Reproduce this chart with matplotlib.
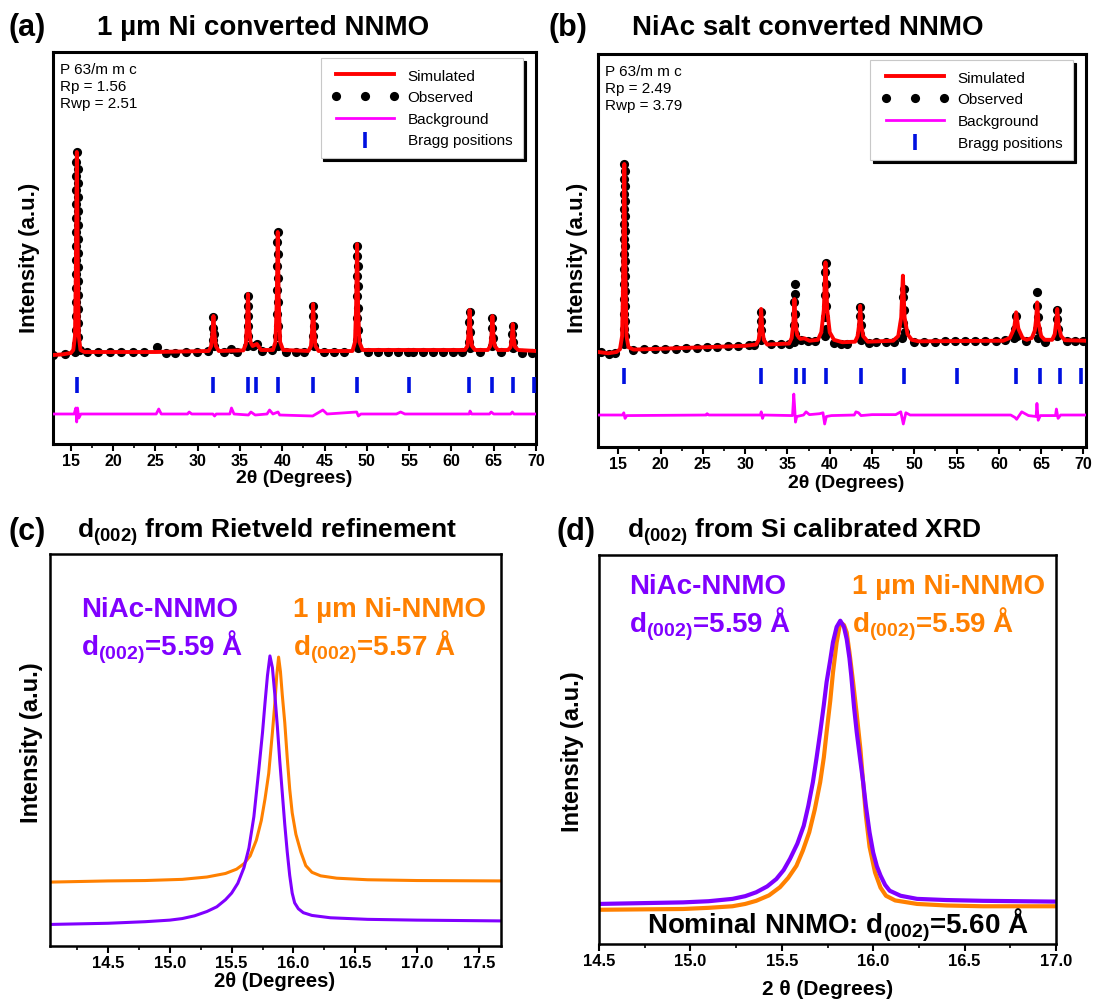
import numpy as np
import matplotlib
matplotlib.use("Agg")
import matplotlib.pyplot as plt
from matplotlib.ticker import MultipleLocator

plt.rcParams['font.family'] = ['Liberation Sans', 'DejaVu Sans']
plt.rcParams['mathtext.fontset'] = 'custom'
plt.rcParams['mathtext.rm'] = 'Liberation Sans'
plt.rcParams['mathtext.bf'] = 'Liberation Sans:bold'

W, H = 1104, 1003
PURPLE = '#8000ff'
ORANGE = '#ff8000'

# ---------------- panel (a): 1 um Ni converted NNMO ----------------
sim_a = [(12.9, -0.015), (14.0, -0.012), (15.0, -0.005), (15.3, 0.01), (15.5, 0.08), (15.6, 0.4),
         (15.72, 1.0), (15.84, 0.4), (15.95, 0.08), (16.15, 0.01), (16.6, 0.0), (25.0, 0.0),
         (31.3, 0.005), (31.6, 0.03), (31.75, 0.09), (31.87, 0.18), (31.99, 0.09), (32.15, 0.03),
         (32.5, 0.005), (35.4, 0.008), (35.7, 0.04), (35.83, 0.14), (35.95, 0.29), (36.07, 0.14),
         (36.25, 0.05), (36.5, 0.03), (37.0, 0.04), (37.5, 0.01), (38.9, 0.01), (39.2, 0.05),
         (39.35, 0.25), (39.47, 0.6), (39.59, 0.25), (39.75, 0.05), (40.1, 0.01), (43.1, 0.005),
         (43.4, 0.03), (43.53, 0.11), (43.65, 0.24), (43.77, 0.11), (43.92, 0.03), (44.3, 0.005),
         (48.3, 0.005), (48.6, 0.05), (48.73, 0.22), (48.85, 0.54), (48.97, 0.22), (49.12, 0.05),
         (49.5, 0.01), (61.6, 0.01), (61.9, 0.03), (62.03, 0.1), (62.15, 0.21), (62.27, 0.1),
         (62.42, 0.03), (62.8, 0.01), (64.3, 0.01), (64.6, 0.03), (64.73, 0.08), (64.85, 0.18),
         (64.97, 0.08), (65.12, 0.03), (65.5, 0.01), (66.7, 0.01), (67.0, 0.025), (67.13, 0.065),
         (67.25, 0.14), (67.37, 0.065), (67.52, 0.025), (67.9, 0.01), (70.0, 0.005)]
obs_a = [(12.9, -0.015), (14.3, -0.01), (15.45, 0.0), (16.05, 0.01), (16.9, 0.0), (18.2, 0.0),
         (19.6, 0.0), (20.9, 0.0), (22.3, 0.0), (23.6, 0.0), (25.2, 0.025), (26.3, -0.005),
         (27.3, -0.003), (28.6, 0.0), (29.9, 0.0), (31.2, 0.005), (33.1, 0.0), (33.9, 0.015),
         (34.7, 0.0), (37.6, 0.005), (38.8, 0.01), (40.4, 0.0), (41.6, 0.0), (42.6, 0.0),
         (44.9, 0.0), (46.1, 0.0), (47.3, 0.0), (50.1, 0.0), (51.3, 0.0), (52.5, 0.0), (53.7, 0.0),
         (54.9, 0.0), (55.4, 0.0), (56.6, 0.0), (57.8, 0.0), (59.0, 0.0), (60.2, 0.0), (61.2, 0.0),
         (63.4, 0.0), (65.9, 0.0), (68.4, -0.005), (69.5, -0.005),
         # (002) peak
         (15.62, 0.04), (15.62, 0.11), (15.62, 0.18), (15.62, 0.25), (15.62, 0.32), (15.62, 0.39),
         (15.62, 0.46), (15.62, 0.53), (15.62, 0.60), (15.62, 0.67), (15.62, 0.74), (15.62, 0.81),
         (15.62, 0.88), (15.62, 0.95), (15.82, 0.075), (15.82, 0.145), (15.82, 0.215),
         (15.82, 0.285), (15.82, 0.355), (15.82, 0.425), (15.82, 0.495), (15.82, 0.565),
         (15.82, 0.635), (15.82, 0.705), (15.82, 0.775), (15.82, 0.845), (15.82, 0.915),
         (15.72, 1.0),
         (31.82, 0.175), (31.8, 0.12), (31.93, 0.09), (31.8, 0.06), (31.95, 0.03),
         (35.95, 0.28), (35.9, 0.23), (36.0, 0.18), (35.9, 0.13), (36.0, 0.08), (35.85, 0.03),
         (36.5, 0.03), (37.0, 0.04),
         (39.45, 0.60), (39.4, 0.55), (39.5, 0.49), (39.4, 0.43), (39.5, 0.37), (39.4, 0.31),
         (39.5, 0.25), (39.4, 0.19), (39.5, 0.13), (39.4, 0.08), (39.55, 0.03),
         (43.65, 0.23), (43.6, 0.18), (43.7, 0.13), (43.6, 0.08), (43.7, 0.03),
         (48.85, 0.53), (48.8, 0.48), (48.9, 0.43), (48.8, 0.38), (48.9, 0.33), (48.8, 0.28),
         (48.9, 0.22), (48.8, 0.17), (48.9, 0.11), (48.8, 0.06), (48.9, 0.02),
         (62.15, 0.20), (62.1, 0.15), (62.2, 0.10), (62.1, 0.05), (62.25, 0.02),
         (64.85, 0.17), (64.8, 0.12), (64.9, 0.07), (64.85, 0.03),
         (67.25, 0.13), (67.2, 0.09), (67.3, 0.05), (67.25, 0.02)]
diff_a = [(12.9, -0.31), (15.4, -0.31), (15.6, -0.28), (15.7, -0.35), (15.8, -0.28), (15.95, -0.33),
          (16.2, -0.31), (25.1, -0.31), (25.4, -0.285), (25.7, -0.31), (28.8, -0.31), (29.0, -0.30),
          (29.3, -0.31), (31.8, -0.31), (32.0, -0.32), (32.2, -0.31), (33.8, -0.31), (34.0, -0.28),
          (34.3, -0.31), (36.0, -0.315), (36.3, -0.30), (36.8, -0.315), (38.2, -0.31), (38.5, -0.29),
          (38.9, -0.31), (39.5, -0.30), (39.7, -0.315), (43.6, -0.32), (44.0, -0.31), (44.8, -0.29),
          (45.3, -0.31), (48.8, -0.30), (49.0, -0.32), (49.3, -0.31), (53.5, -0.31), (54.0, -0.30),
          (54.5, -0.31), (62.1, -0.31), (62.2, -0.295), (62.4, -0.31), (64.5, -0.31), (64.7, -0.30),
          (65.0, -0.31), (67.0, -0.31), (67.2, -0.30), (67.4, -0.31), (70.0, -0.31)]
bragg_a = [15.7, 31.8, 35.9, 36.9, 39.45, 43.6, 48.85, 55.0, 62.05, 64.85, 67.3, 69.75]

# ---------------- panel (b): NiAc salt converted NNMO ----------------
sim_b = [(12.6, -0.005), (13.8, -0.012), (14.8, -0.005), (15.2, 0.01), (15.45, 0.08), (15.58, 0.4),
         (15.71, 1.0), (15.84, 0.4), (15.97, 0.08), (16.2, 0.02), (16.8, 0.008), (20.0, 0.012),
         (25.0, 0.02), (30.0, 0.028), (31.3, 0.035), (31.6, 0.06), (31.76, 0.12), (31.89, 0.225),
         (32.02, 0.12), (32.2, 0.06), (32.6, 0.035), (35.2, 0.04), (35.5, 0.07), (35.7, 0.15),
         (35.83, 0.278), (35.96, 0.15), (36.15, 0.085), (36.5, 0.065), (37.0, 0.068), (37.6, 0.055),
         (38.6, 0.06), (39.0, 0.1), (39.3, 0.22), (39.5, 0.474), (39.7, 0.22), (40.0, 0.1),
         (40.5, 0.06), (41.5, 0.047), (43.0, 0.05), (43.3, 0.08), (43.47, 0.14), (43.6, 0.242),
         (43.73, 0.14), (43.95, 0.08), (44.5, 0.05), (47.5, 0.055), (48.1, 0.08), (48.45, 0.18),
         (48.65, 0.403), (48.85, 0.18), (49.2, 0.09), (49.7, 0.06), (50.5, 0.052), (60.5, 0.055),
         (61.3, 0.07), (61.8, 0.12), (62.04, 0.207), (62.3, 0.12), (62.8, 0.07), (63.3, 0.06),
         (63.9, 0.07), (64.25, 0.11), (64.4, 0.17), (64.53, 0.26), (64.68, 0.15), (65.0, 0.08),
         (65.4, 0.06), (66.3, 0.06), (66.6, 0.09), (66.77, 0.15), (66.9, 0.225), (67.05, 0.14),
         (67.35, 0.08), (67.8, 0.058), (70.3, 0.055)]
obs_b = [(12.9, -0.005), (13.9, -0.015), (14.6, -0.01), (16.7, 0.005), (18.0, 0.01), (19.3, 0.01),
         (20.5, 0.01), (21.8, 0.013), (23.0, 0.015), (24.3, 0.018), (25.5, 0.02), (26.7, 0.022),
         (28.0, 0.025), (29.2, 0.025), (30.5, 0.03), (31.1, 0.03), (33.0, 0.035), (34.2, 0.04),
         (35.2, 0.038), (36.6, 0.06), (37.4, 0.055), (38.2, 0.055), (40.5, 0.045), (41.3, 0.04),
         (42.0, 0.04), (44.6, 0.045), (45.5, 0.05), (46.6, 0.05), (47.6, 0.05), (50.0, 0.05),
         (51.2, 0.05), (52.4, 0.05), (53.6, 0.052), (54.8, 0.052), (56.0, 0.053), (57.2, 0.053),
         (58.4, 0.055), (59.6, 0.055), (60.7, 0.06), (63.2, 0.055), (65.5, 0.05), (68.0, 0.052),
         (69.0, 0.052), (70.0, 0.055),
         # (002) peak
         (15.62, 0.04), (15.62, 0.12), (15.62, 0.20), (15.62, 0.28), (15.62, 0.36), (15.62, 0.44),
         (15.62, 0.52), (15.62, 0.60), (15.62, 0.68), (15.62, 0.76), (15.62, 0.84), (15.62, 0.92),
         (15.8, 0.08), (15.8, 0.16), (15.8, 0.24), (15.8, 0.32), (15.8, 0.40), (15.8, 0.48),
         (15.8, 0.56), (15.8, 0.64), (15.8, 0.72), (15.8, 0.80), (15.8, 0.88), (15.8, 0.96),
         (15.71, 1.0),
         (31.89, 0.21), (31.85, 0.16), (31.93, 0.11), (31.85, 0.06),
         (35.85, 0.358), (35.85, 0.305), (35.8, 0.26), (35.88, 0.2), (35.8, 0.14), (35.9, 0.09),
         (35.8, 0.05),
         (39.5, 0.47), (39.45, 0.42), (39.55, 0.36), (39.45, 0.30), (39.55, 0.24), (39.45, 0.18),
         (39.55, 0.12), (39.45, 0.08),
         (43.6, 0.235), (43.55, 0.19), (43.65, 0.14), (43.55, 0.09), (43.65, 0.06),
         (48.75, 0.33), (48.7, 0.29), (48.8, 0.22), (48.65, 0.15), (48.85, 0.10), (48.6, 0.07),
         (62.05, 0.19), (61.95, 0.12), (62.1, 0.08), (61.8, 0.07),
         (64.55, 0.314), (64.5, 0.24), (64.6, 0.18), (64.45, 0.12), (64.6, 0.07),
         (66.9, 0.22), (66.85, 0.17), (66.95, 0.12), (66.85, 0.08)]
diff_b = [(12.6, -0.342), (15.5, -0.342), (15.65, -0.33), (15.8, -0.36), (16.0, -0.345),
          (25.4, -0.342), (25.5, -0.335), (25.7, -0.342), (31.8, -0.342), (31.9, -0.325),
          (32.05, -0.36), (32.2, -0.342), (35.6, -0.345), (35.75, -0.23), (35.85, -0.30),
          (35.95, -0.38), (36.1, -0.35), (36.9, -0.342), (37.2, -0.325), (37.6, -0.34),
          (38.8, -0.335), (39.2, -0.33), (39.4, -0.39), (39.6, -0.35), (40.2, -0.345),
          (42.9, -0.342), (43.1, -0.325), (43.4, -0.33), (43.7, -0.345), (45.0, -0.34),
          (47.8, -0.34), (48.4, -0.325), (48.7, -0.39), (49.0, -0.33), (49.5, -0.342),
          (61.4, -0.342), (61.9, -0.355), (62.1, -0.365), (62.7, -0.325), (63.5, -0.345),
          (64.4, -0.35), (64.5, -0.28), (64.65, -0.37), (64.9, -0.345), (66.7, -0.345),
          (66.8, -0.31), (67.0, -0.36), (67.3, -0.342), (70.3, -0.342)]
bragg_b = [15.71, 31.85, 36.03, 36.9, 39.5, 43.69, 48.82, 55.05, 62.04, 64.83, 67.28, 69.65]

# ---------------- panel (c): d(002) from Rietveld refinement ----------------
c_niac = [(14.03, 55), (14.5, 58), (14.8, 62), (15.0, 66), (15.1, 70), (15.2, 77), (15.3, 88),
          (15.38, 100), (15.45, 118), (15.5, 135), (15.55, 160), (15.6, 200), (15.64, 250),
          (15.68, 330), (15.72, 450), (15.75, 545), (15.77, 620), (15.79, 690), (15.81, 740),
          (15.83, 710), (15.85, 640), (15.87, 560), (15.89, 470), (15.91, 390), (15.93, 310),
          (15.95, 240), (15.97, 180), (15.99, 135), (16.01, 110), (16.04, 95), (16.08, 85),
          (16.15, 78), (16.3, 72), (16.6, 68), (17.0, 66), (17.68, 64)]
c_ni = [(14.03, 163), (14.5, 166), (14.8, 167), (15.1, 170), (15.3, 176), (15.45, 185),
        (15.54, 196), (15.6, 210), (15.65, 230), (15.7, 270), (15.74, 320), (15.77, 375),
        (15.8, 440), (15.83, 545), (15.85, 620), (15.865, 690), (15.88, 737), (15.895, 700),
        (15.91, 640), (15.93, 570), (15.95, 480), (15.97, 400), (15.99, 340), (16.02, 285),
        (16.06, 240), (16.1, 205), (16.15, 188), (16.22, 179), (16.35, 173), (16.6, 169),
        (17.0, 167), (17.68, 166)]

# ---------------- panel (d): d(002) from Si calibrated XRD ----------------
d_niac = [(14.5, 103), (14.96, 107), (15.1, 110), (15.23, 116), (15.3, 123), (15.36, 133),
          (15.42, 148), (15.47, 167), (15.51, 190), (15.545, 219), (15.585, 258), (15.62, 304),
          (15.645, 355), (15.67, 416), (15.69, 478), (15.71, 544), (15.73, 615), (15.745, 673),
          (15.765, 730), (15.78, 776), (15.8, 815), (15.82, 831), (15.84, 815), (15.855, 784),
          (15.87, 735), (15.88, 690), (15.895, 610), (15.91, 544), (15.93, 470), (15.945, 416),
          (15.96, 355), (15.98, 287), (16.0, 235), (16.02, 200), (16.04, 176), (16.065, 152),
          (16.09, 137), (16.15, 124), (16.24, 116), (16.4, 113), (16.6, 111), (17.0, 109)]
d_ni = [(14.5, 88), (14.96, 90), (15.1, 93), (15.23, 97), (15.3, 103), (15.36, 111),
        (15.43, 125), (15.49, 146), (15.535, 170), (15.58, 201), (15.615, 240), (15.65, 287),
        (15.68, 345), (15.71, 416), (15.73, 480), (15.745, 544), (15.765, 625), (15.78, 698),
        (15.8, 775), (15.82, 827), (15.84, 820), (15.855, 801), (15.87, 750), (15.89, 673),
        (15.91, 590), (15.93, 501), (15.945, 415), (15.96, 330), (15.98, 250), (16.01, 184),
        (16.04, 145), (16.07, 124), (16.12, 112), (16.24, 103), (16.4, 99), (16.6, 97),
        (17.0, 97)]


def add_ax(fig, l, t, r, b):
    return fig.add_axes([l / W, 1 - b / H, (r - l) / W, (b - t) / H])


def ftext(fig, x, y, s, **kw):
    return fig.text(x / W, 1 - y / H, s, **kw)


def style_axes(ax, lw=2.0, labelsize=12):
    for sp in ax.spines.values():
        sp.set_linewidth(lw)
    ax.set_yticks([])
    ax.tick_params(axis='x', which='major', direction='out', length=5, width=1.5,
                   labelsize=labelsize, pad=1.5)
    ax.tick_params(axis='x', which='minor', direction='out', length=3, width=1.2)
    for lab in ax.get_xticklabels():
        lab.set_fontweight('bold')


def rietveld(ax, sim, obs, diff, bragg, bragg_y, xlim, ylim, info):
    ox, oy = np.array(obs).T
    sx, sy = np.array(sim).T
    dx, dy = np.array(diff).T
    l_obs, = ax.plot(ox, oy, 'o', color='black', ms=6.6, mec='none', zorder=2)
    l_sim, = ax.plot(sx, sy, '-', color='red', lw=2.8, zorder=3)
    l_bg, = ax.plot(dx, dy, '-', color='#ff00ff', lw=2.0, zorder=3)
    l_br = ax.scatter(bragg, [bragg_y] * len(bragg), marker='|', s=120, linewidths=2.6,
                      color='#0010e0', zorder=3)
    ax.set_xlim(*xlim)
    ax.set_ylim(*ylim)
    ax.xaxis.set_major_locator(MultipleLocator(5))
    ax.xaxis.set_minor_locator(MultipleLocator(2.5))
    style_axes(ax, 2.2, labelsize=11.5)
    ax.text(0.015, 0.975, info, transform=ax.transAxes, ha='left', va='top',
            fontsize=11, linespacing=1.3)
    leg = ax.legend([l_sim, l_obs, l_bg, l_br],
                    ['Simulated', 'Observed', 'Background', 'Bragg positions'],
                    loc='upper right', bbox_to_anchor=(0.973, 0.985), borderaxespad=0,
                    fontsize=11, numpoints=3, scatterpoints=1, handlelength=4.4,
                    handletextpad=0.6, labelspacing=0.5, borderpad=0.7,
                    fancybox=False, framealpha=1, edgecolor='#c8c8c8',
                    shadow={'color': 'black', 'alpha': 1})
    leg.get_frame().set_linewidth(0.8)


fig = plt.figure(figsize=(W / 100, H / 100), dpi=100)

# (a)
ax_a = add_ax(fig, 53, 53, 536, 445)
rietveld(ax_a, sim_a, obs_a, diff_a, bragg_a, -0.165, (12.9, 70.0), (-0.46, 1.5),
         'P 63/m m c\nRp = 1.56\nRwp = 2.51')
# (b)
ax_b = add_ax(fig, 598, 55, 1086, 448)
rietveld(ax_b, sim_b, obs_b, diff_b, bragg_b, -0.136, (12.6, 70.3), (-0.513, 1.588),
         'P 63/m m c\nRp = 2.49\nRwp = 3.79')

# (c)
ax_c = add_ax(fig, 50, 555, 501, 947)
cx1, cy1 = np.array(c_ni).T
cx2, cy2 = np.array(c_niac).T
ax_c.plot(cx1, cy1, color=ORANGE, lw=2.2)
ax_c.plot(cx2, cy2, color=PURPLE, lw=2.2)
ax_c.set_xlim(14.03, 17.68)
ax_c.set_ylim(0, 1000)
ax_c.xaxis.set_major_locator(MultipleLocator(0.5))
ax_c.xaxis.set_minor_locator(MultipleLocator(0.25))
style_axes(ax_c, 1.8)

# (d)
ax_d = add_ax(fig, 599, 556, 1056, 945)
dx1, dy1 = np.array(d_ni).T
dx2, dy2 = np.array(d_niac).T
ax_d.plot(dx1, dy1, color=ORANGE, lw=3.0)
ax_d.plot(dx2, dy2, color=PURPLE, lw=3.0)
ax_d.set_xlim(14.5, 17.0)
ax_d.set_ylim(0, 1000)
ax_d.xaxis.set_major_locator(MultipleLocator(0.5))
ax_d.xaxis.set_minor_locator(MultipleLocator(0.25))
style_axes(ax_d, 1.8)

bold = dict(fontweight='bold')
# panel titles
ftext(fig, 8, 28, '(a)', fontsize=22, va='center', **bold)
ftext(fig, 97, 28, '1 µm Ni converted NNMO', fontsize=20, va='center', **bold)
ftext(fig, 548, 28, '(b)', fontsize=22, va='center', **bold)
ftext(fig, 632, 28, 'NiAc salt converted NNMO', fontsize=20, va='center', **bold)
ftext(fig, 8, 532, '(c)', fontsize=22, va='center', **bold)
ftext(fig, 77, 532, r'd$_{\mathbf{(002)}}$ from Rietveld refinement', fontsize=19, va='center', **bold)
ftext(fig, 556, 532, '(d)', fontsize=22, va='center', **bold)
ftext(fig, 627, 532, r'd$_{\mathbf{(002)}}$ from Si calibrated XRD', fontsize=19, va='center', **bold)

# axis labels
ftext(fig, 294, 479, '2θ (Degrees)', fontsize=14, ha='center', va='center', **bold)
ftext(fig, 846, 484, '2θ (Degrees)', fontsize=14, ha='center', va='center', **bold)
ftext(fig, 275, 982, '2θ (Degrees)', fontsize=14.5, ha='center', va='center', **bold)
ftext(fig, 828, 990, '2 θ (Degrees)', fontsize=15, ha='center', va='center', **bold)
ftext(fig, 30, 258, 'Intensity (a.u.)', fontsize=16, rotation=90, ha='center', va='center', **bold)
ftext(fig, 578, 258, 'Intensity (a.u.)', fontsize=16, rotation=90, ha='center', va='center', **bold)
ftext(fig, 32, 743, 'Intensity (a.u.)', fontsize=17, rotation=90, ha='center', va='center', **bold)
ftext(fig, 572, 752, 'Intensity (a.u.)', fontsize=17, rotation=90, ha='center', va='center', **bold)

# annotations panel (c)
ftext(fig, 81, 610, 'NiAc-NNMO', fontsize=20, color=PURPLE, va='center', **bold)
ftext(fig, 81, 647, r'd$_{\mathbf{(002)}}$=5.59 Å', fontsize=20, color=PURPLE, va='center', **bold)
ftext(fig, 293, 610, '1 µm Ni-NNMO', fontsize=20, color=ORANGE, va='center', **bold)
ftext(fig, 293, 647, r'd$_{\mathbf{(002)}}$=5.57 Å', fontsize=20, color=ORANGE, va='center', **bold)
# annotations panel (d)
ftext(fig, 629, 587, 'NiAc-NNMO', fontsize=20, color=PURPLE, va='center', **bold)
ftext(fig, 629, 624, r'd$_{\mathbf{(002)}}$=5.59 Å', fontsize=20, color=PURPLE, va='center', **bold)
ftext(fig, 852, 587, '1 µm Ni-NNMO', fontsize=20, color=ORANGE, va='center', **bold)
ftext(fig, 852, 624, r'd$_{\mathbf{(002)}}$=5.59 Å', fontsize=20, color=ORANGE, va='center', **bold)
ftext(fig, 647, 925, r'Nominal NNMO: d$_{\mathbf{(002)}}$=5.60 Å', fontsize=20, va='center', **bold)

fig.savefig('out.png', dpi=100)
plt.close(fig)
